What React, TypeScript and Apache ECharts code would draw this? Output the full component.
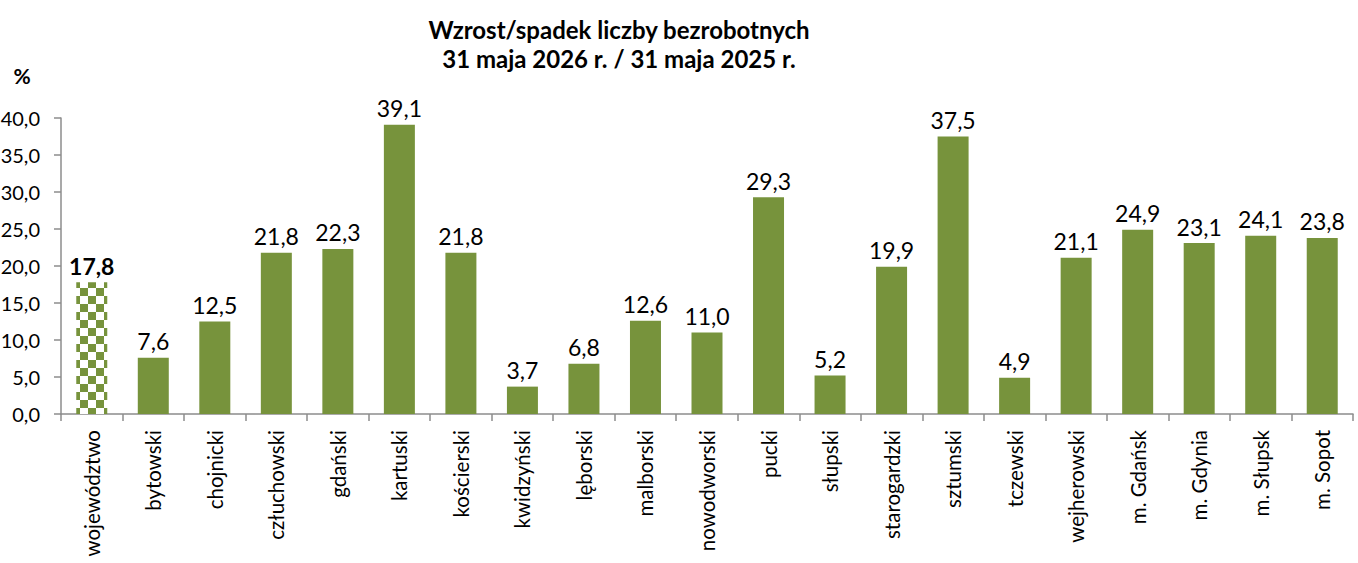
import React, { useEffect, useRef } from "react";
import * as echarts from "echarts";

const categories = [
  "województwo", "bytowski", "chojnicki", "człuchowski", "gdański", "kartuski",
  "kościerski", "kwidzyński", "lęborski", "malborski", "nowodworski", "pucki",
  "słupski", "starogardzki", "sztumski", "tczewski", "wejherowski", "m. Gdańsk",
  "m. Gdynia", "m. Słupsk", "m. Sopot",
];
const values = [
  17.8, 7.6, 12.5, 21.8, 22.3, 39.1, 21.8, 3.7, 6.8, 12.6, 11.0, 29.3, 5.2, 19.9,
  37.5, 4.9, 21.1, 24.9, 23.1, 24.1, 23.8,
];
const titleLines = ["Wzrost/spadek liczby bezrobotnych", "31 maja 2026 r. / 31 maja 2025 r."];
const yUnit = "%";

const GREEN = "#77933C";
const FONT = "Lato, 'Open Sans', sans-serif";

function makeChecker(): HTMLCanvasElement {
  const c = document.createElement("canvas");
  c.width = 16;
  c.height = 16;
  const ctx = c.getContext("2d")!;
  ctx.fillStyle = "#ffffff";
  ctx.fillRect(0, 0, 16, 16);
  ctx.fillStyle = GREEN;
  ctx.fillRect(0, 0, 8, 8);
  ctx.fillRect(8, 8, 8, 8);
  return c;
}

const fmt = (v: number) => v.toFixed(1).replace(".", ",");

export default function App() {
  const ref = useRef<HTMLDivElement>(null);
  useEffect(() => {
    if (!ref.current) return;
    const chart = echarts.init(ref.current, null, { renderer: "svg" });
    const checker = makeChecker();
    const data = values.map((v, i) =>
      i === 0
        ? {
            value: v,
            itemStyle: { color: { image: checker, repeat: "repeat" } as any },
            label: { fontWeight: "bold" as const },
          }
        : { value: v }
    );
    chart.setOption({
      animation: false,
      textStyle: { fontFamily: FONT },
      graphic: [
        {
          type: "text",
          x: 619,
          y: 15,
          style: {
            text: titleLines.join("\n"),
            fontFamily: FONT,
            fontSize: 24,
            fontWeight: "bold",
            lineHeight: 29,
            fill: "#000",
            align: "center",
            textAlign: "center",
          } as any,
        },
        {
          type: "text",
          x: 22,
          y: 75,
          style: {
            text: yUnit,
            fontFamily: FONT,
            fontSize: 21,
            fontWeight: "bold",
            fill: "#000",
            align: "center",
            verticalAlign: "middle",
          } as any,
        },
      ],
      grid: {
        left: 61,
        right: 5,
        top: 118,
        bottom: 149,
        containLabel: false,
        outerBoundsMode: "none",
      } as any,
      xAxis: {
        type: "category",
        data: categories,
        axisLine: { lineStyle: { color: "#8c8c8c", width: 1.5 } },
        axisTick: { show: true, length: 7, alignWithLabel: false, lineStyle: { color: "#8c8c8c", width: 1.5 } },
        axisLabel: {
          rotate: 90,
          interval: 0,
          margin: 16,
          fontSize: 20.5,
          color: "#000",
          fontFamily: FONT,
        },
      },
      yAxis: {
        type: "value",
        min: 0,
        max: 40,
        interval: 5,
        splitLine: { show: false },
        axisLine: { show: true, lineStyle: { color: "#8c8c8c", width: 1.5 } },
        axisTick: { show: true, length: 7, lineStyle: { color: "#8c8c8c", width: 1.5 } },
        axisLabel: {
          formatter: (v: number) => fmt(v),
          fontSize: 20,
          color: "#000",
          margin: 21,
          fontFamily: FONT,
        },
      },
      series: [
        {
          type: "bar",
          data,
          barWidth: 31,
          itemStyle: { color: GREEN },
          label: {
            show: true,
            position: "top",
            distance: 5,
            fontSize: 23,
            color: "#000",
            fontFamily: FONT,
            formatter: (p: any) => fmt(p.value),
          },
        },
      ],
    });
    return () => chart.dispose();
  }, []);
  return (
    <div
      ref={ref}
      style={{ position: "fixed", left: 0, top: 0, width: 1358, height: 563, background: "#fff" }}
    />
  );
}
